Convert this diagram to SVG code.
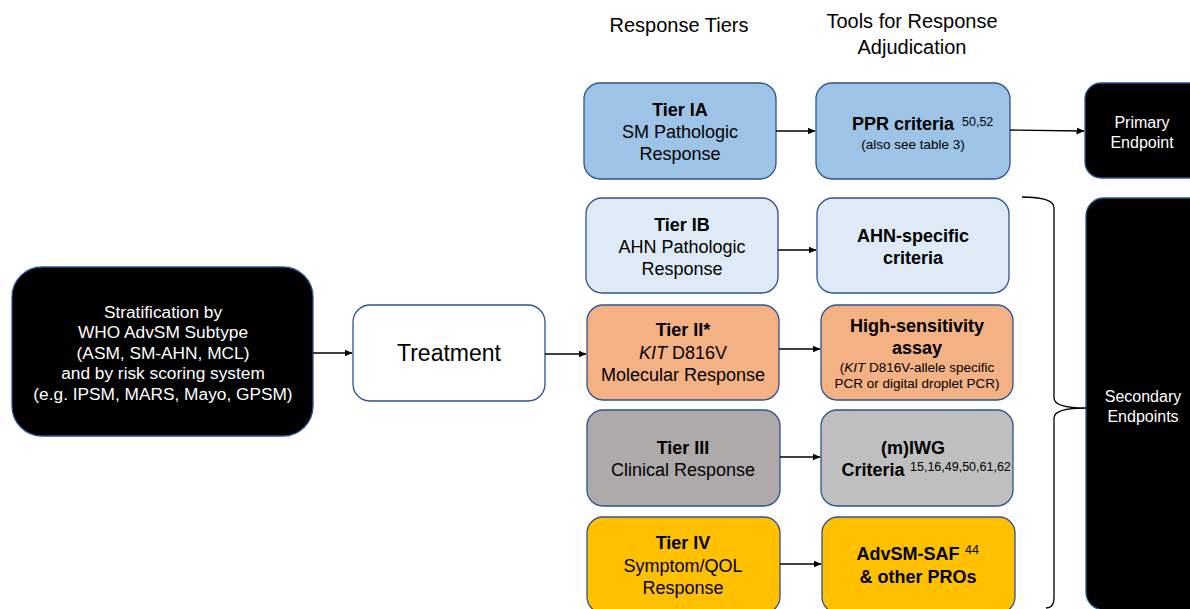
<svg xmlns="http://www.w3.org/2000/svg" width="1190" height="609" viewBox="0 0 1190 609">
<style>
text{font-family:"Liberation Sans",Arial,sans-serif;text-anchor:middle;fill:#000}
.box{stroke:#2F528F;stroke-width:1.3}
.w{fill:#fff}
.b{font-weight:bold}
.t18{font-size:18px}
.sup{font-size:12.5px;text-anchor:start}
.sm{font-size:13.5px}
.conn{stroke:#000;stroke-width:1.3;fill:none}
</style>
<defs>
<marker id="ah" markerWidth="8" markerHeight="8" refX="7.5" refY="4" orient="auto" markerUnits="userSpaceOnUse">
<path d="M0,0.5 L8,4 L0,7.5 Z" fill="#000"/>
</marker>
</defs>
<rect width="1190" height="609" fill="#fff"/>

<g id="headers">
<text x="679" y="32" style="font-size:20px">Response Tiers</text>
<text x="912" y="28" style="font-size:20px">Tools for Response</text>
<text x="912" y="54" style="font-size:20px">Adjudication</text>
</g>

<g id="strat">
<rect class="box" x="12" y="267" width="301" height="169" rx="30" fill="#000"/>
<text class="w" style="font-size:17.3px"><tspan x="163" y="318">Stratification by</tspan><tspan x="163" y="338">WHO AdvSM Subtype</tspan><tspan x="163" y="359">(ASM, SM-AHN, MCL)</tspan><tspan x="163" y="379">and by risk scoring system</tspan><tspan x="163" y="400">(e.g. IPSM, MARS, Mayo, GPSM)</tspan></text>
</g>

<g id="treatment">
<rect class="box" x="353" y="305" width="192" height="96" rx="17" fill="#fff"/>
<text x="449" y="361" style="font-size:23px">Treatment</text>
</g>

<g id="tier1a">
<rect class="box" x="584" y="83" width="192" height="96" rx="16" fill="#9DC3E6"/>
<text class="t18"><tspan x="680" y="116" class="b">Tier IA</tspan><tspan x="680" y="138">SM Pathologic</tspan><tspan x="680" y="160">Response</tspan></text>
</g>
<g id="ppr">
<rect class="box" x="816" y="83" width="194" height="96" rx="16" fill="#9DC3E6"/>
<text x="903" y="130" class="t18 b">PPR criteria</text>
<text x="962" y="126" class="sup">50,52</text>
<text x="913" y="149" class="sm">(also see table 3)</text>
</g>

<g id="tier1b">
<rect class="box" x="586" y="198" width="192" height="95" rx="16" fill="#DEEBF7"/>
<text class="t18"><tspan x="682" y="231" class="b">Tier IB</tspan><tspan x="682" y="253">AHN Pathologic</tspan><tspan x="682" y="275">Response</tspan></text>
</g>
<g id="ahn">
<rect class="box" x="817" y="198" width="192" height="95" rx="16" fill="#DEEBF7"/>
<text class="t18 b"><tspan x="913" y="242">AHN-specific</tspan><tspan x="913" y="264">criteria</tspan></text>
</g>

<g id="tier2">
<rect class="box" x="587" y="305" width="192" height="95" rx="16" fill="#F4B183"/>
<text class="t18"><tspan x="683" y="336" class="b">Tier II*</tspan><tspan x="683" y="359"><tspan font-style="italic">KIT</tspan> D816V</tspan><tspan x="683" y="381">Molecular Response</tspan></text>
</g>
<g id="hsa">
<rect class="box" x="821" y="305" width="192" height="95" rx="16" fill="#F4B183"/>
<text class="t18 b"><tspan x="917" y="332">High-sensitivity</tspan><tspan x="917" y="354">assay</tspan></text>
<text class="sm"><tspan x="917" y="372">(<tspan font-style="italic">KIT</tspan> D816V-allele specific</tspan><tspan x="917" y="388">PCR or digital droplet PCR)</tspan></text>
</g>

<g id="tier3">
<rect class="box" x="587" y="410" width="193" height="96" rx="16" fill="#AEAAAA"/>
<text class="t18"><tspan x="683" y="454" class="b">Tier III</tspan><tspan x="683" y="476">Clinical Response</tspan></text>
</g>
<g id="iwg">
<rect class="box" x="821" y="410" width="192" height="96" rx="16" fill="#BFBFBF"/>
<text x="913" y="454" class="t18 b">(m)IWG</text>
<text x="873" y="476" class="t18 b">Criteria</text>
<text x="910" y="471" class="sup">15,16,49,50,61,62</text>
</g>

<g id="tier4">
<rect class="box" x="587" y="517" width="193" height="96" rx="16" fill="#FFC000"/>
<text class="t18"><tspan x="683" y="549" class="b">Tier IV</tspan><tspan x="683" y="572">Symptom/QOL</tspan><tspan x="683" y="594">Response</tspan></text>
</g>
<g id="advsm">
<rect class="box" x="822" y="517" width="193" height="96" rx="16" fill="#FFC000"/>
<text x="908" y="560" class="t18 b">AdvSM-SAF</text>
<text x="965" y="554" class="sup">44</text>
<text x="918" y="583" class="t18 b">&amp; other PROs</text>
</g>

<g id="primary">
<rect class="box" x="1085" y="83" width="130" height="95" rx="16" fill="#000"/>
<text class="w" style="font-size:16px"><tspan x="1142" y="128">Primary</tspan><tspan x="1142" y="148">Endpoint</tspan></text>
</g>

<g id="secondary">
<rect class="box" x="1086" y="198" width="130" height="412" rx="18" fill="#000"/>
<text class="w" style="font-size:16px"><tspan x="1143" y="402">Secondary</tspan><tspan x="1143" y="422">Endpoints</tspan></text>
</g>

<g id="connectors">
<line class="conn" x1="313" y1="353" x2="352" y2="353" marker-end="url(#ah)"/>
<line class="conn" x1="545" y1="354" x2="586" y2="354" marker-end="url(#ah)"/>
<line class="conn" x1="776" y1="131" x2="815" y2="131" marker-end="url(#ah)"/>
<line class="conn" x1="1010" y1="130" x2="1084" y2="131" marker-end="url(#ah)"/>
<line class="conn" x1="778" y1="250" x2="816" y2="250" marker-end="url(#ah)"/>
<line class="conn" x1="779" y1="349" x2="820" y2="349" marker-end="url(#ah)"/>
<line class="conn" x1="780" y1="457" x2="820" y2="457" marker-end="url(#ah)"/>
<line class="conn" x1="780" y1="564" x2="821" y2="564" marker-end="url(#ah)"/>
<path class="conn" d="M1022,197 Q1054,197 1054,208 L1054,398 Q1054,408 1086,408 Q1054,408 1054,418 L1054,598 Q1054,608 1046,608"/>
</g>
</svg>
